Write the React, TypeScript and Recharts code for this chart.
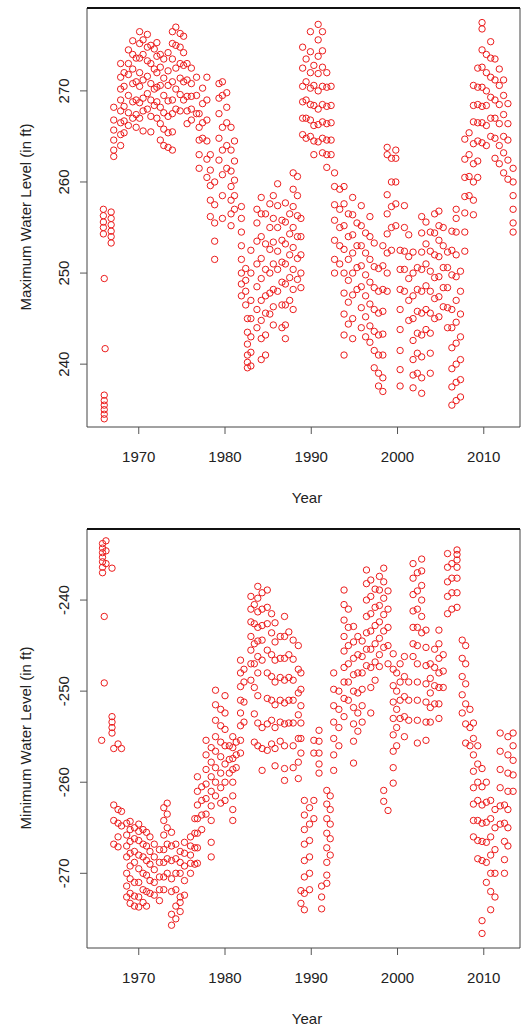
import { ReferenceArea, ReferenceLine, Scatter, ScatterChart, XAxis, YAxis } from 'recharts'

// each column: [decimal year, levels recorded at that time]
type Column = [number, number[]]

const yearTicks = [1970, 1980, 1990, 2000, 2010]
const maxTicks = [240, 250, 260, 270]
const minTicks = [-270, -260, -250, -240]

const maxLevelCols: Column[] = [
  [1965.9, [257, 256.3, 255.6, 255, 254.3]],
  [1966.0, [249.4]],
  [1966.1, [241.7]],
  [1966.0, [236.6, 236, 235.5, 235, 234.5, 234]],
  [1966.8, [256.7, 256, 255.3, 254.6, 254, 253.3]],
  [1967.1, [268.2, 266.8, 265.7, 264.6, 263.5, 262.8]],
  [1967.9, [273, 271.5, 270.2, 269, 267.8, 266.5, 265.2, 264]],
  [1968.3, [272, 270.5, 268.3, 266.7, 265.4]],
  [1968.8, [274.5, 273, 271.8, 269.5, 267.6, 266.2]],
  [1969.3, [275.5, 274, 272.4, 270.8, 268.8, 267]],
  [1969.7, [273.6, 271, 269, 267.4, 266]],
  [1970.1, [276.5, 275.2, 273.6, 272, 270.5, 268.7, 267]],
  [1970.5, [275.6, 274, 271.2, 269.2, 267.8, 265.6]],
  [1971.0, [276.2, 274.8, 273.3, 271.6, 269.7, 268]],
  [1971.4, [275, 273, 270.8, 269, 267.2, 265.5]],
  [1971.8, [274.6, 272.4, 270.2, 268.4]],
  [1972.1, [275.3, 273.8, 272, 270.4, 268.8, 267]],
  [1972.5, [274, 272.6, 270.6, 268.2, 266.4, 264.6]],
  [1972.9, [273.5, 271.4, 269.5, 267.6, 265.8, 264]],
  [1973.4, [274.2, 272.2, 270.6, 268.9, 267.2, 265.4, 263.8]],
  [1973.9, [276.5, 275.2, 273.5, 271, 269, 267.5, 265.5, 263.5]],
  [1974.3, [277, 275, 272.5, 270.2, 268]],
  [1974.8, [276.3, 274.8, 273, 271.4, 269.6, 267.8]],
  [1975.2, [276, 274.2, 272.8, 271, 269]],
  [1975.6, [273, 271.2, 269.4, 267.8, 266.4]],
  [1976.1, [272.5, 270.8, 269.4, 268, 266.8]],
  [1976.7, [271.5, 269.5, 267.5]],
  [1977.0, [267.5, 266, 264.6, 263, 261.5]],
  [1977.4, [270.3, 268.6, 266.5, 264.8]],
  [1977.9, [271.5, 269, 266.8, 264.5, 262.5, 260.5]],
  [1978.3, [263, 261.3, 259.6, 258, 256.2]],
  [1978.8, [260, 257.5, 255.5, 253.5, 251.5]],
  [1979.3, [270.8, 269.2, 267.5, 264.8, 262.4]],
  [1979.7, [271, 269.5, 266, 263.5, 260.8, 258.5, 256]],
  [1980.2, [269.8, 268.2, 266.5, 264, 261.5]],
  [1980.7, [266, 263.5, 261.2, 259.5, 258, 256.5, 255.2]],
  [1981.1, [264.5, 262.3, 260.2, 258.5, 257]],
  [1981.9, [257.3, 256, 254.5, 253, 251.5, 250, 248.8, 247.5]],
  [1982.4, [250.5, 249.2, 248, 246.5]],
  [1982.6, [245, 243.5, 242.2, 241, 240.2, 239.6]],
  [1983.0, [252.5, 250, 247, 245, 243, 241.3, 239.8]],
  [1983.7, [257, 255.5, 253.5, 251, 248.5, 246, 244]],
  [1984.2, [258.3, 256.5, 254, 251.6, 249.4, 247, 244.8, 242.8, 240.5]],
  [1984.7, [256.5, 253.2, 250.4, 247.5, 245.6, 243.2, 241]],
  [1985.2, [257.6, 255, 252.6, 250, 247.8, 245.5]],
  [1985.6, [258.5, 256, 253.4, 251, 248.2, 246.3, 244.3]],
  [1986.1, [259.8, 257.4, 255, 252.4, 250.4, 248]],
  [1986.6, [255.8, 253.6, 251.2, 249, 246.5, 244]],
  [1987.0, [257.7, 255.6, 253.2, 251, 248.8, 246.5, 244.3, 242.8]],
  [1987.5, [256.5, 254.3, 252, 249.5, 247]],
  [1987.9, [261, 259.2, 257.3, 255, 252.8, 250.4, 248.2, 246]],
  [1988.4, [260.6, 258.5, 256.3, 254, 251.6, 249.3]],
  [1988.8, [256, 254, 252, 250, 248.4]],
  [1989.0, [274.8, 272.5, 270.5, 268.8, 267, 265.2]],
  [1989.4, [273.5, 271, 269, 267, 264.8]],
  [1989.9, [276.5, 274.3, 272, 270.3, 268.5, 266.8, 265]],
  [1990.3, [272.8, 270.6, 268.4, 266.2, 264.5, 263]],
  [1990.8, [277.3, 275.6, 273.8, 271.9, 270, 268, 266.3, 264.4]],
  [1991.3, [276.5, 274.4, 272.6, 270.5, 268.5, 266.6, 264.8, 263.2]],
  [1991.8, [272, 270.4, 268.3, 266.4, 264.6, 263, 261.6]],
  [1992.3, [270.5, 268.4, 266.5, 264.6, 263]],
  [1992.7, [261, 259.5, 257.5, 255.8, 253.6, 251.5, 250]],
  [1993.3, [259.2, 257, 255, 253, 251]],
  [1993.8, [259.5, 257.6, 255.2, 252.6, 250, 247.8, 245.5, 243.2, 241]],
  [1994.3, [256.5, 254, 251.5, 249.2, 246.8, 244.4]],
  [1994.8, [258.3, 256.4, 254.2, 252.2, 250, 247.6, 245, 242.8]],
  [1995.3, [255.5, 253, 250.6, 248.2]],
  [1995.8, [257.4, 255.2, 253, 250.8, 248.5, 246.2, 244]],
  [1996.3, [254.4, 252.2, 249.8, 247.5, 245.2, 243]],
  [1996.8, [256.2, 254, 251.5, 249, 246.6, 244.2, 242.4]],
  [1997.3, [253.3, 250.7, 248.4, 246, 243.6, 241.5, 239.6]],
  [1997.8, [250.5, 248, 245.6, 243.2, 241, 239, 237.6]],
  [1998.3, [253, 250.8, 248.2, 245.8, 243.3, 241, 238.5, 237]],
  [1998.8, [263.8, 263, 258.6, 256.5, 254.3, 252.2, 250, 248]],
  [1999.3, [262.6, 260, 257.3, 255, 252.5]],
  [1999.8, [263.5, 262.6, 260, 257.6, 255.2]],
  [2000.3, [252.5, 250.4, 248.2, 246, 243.8, 241.5, 239.4, 237.6]],
  [2000.8, [257.4, 255, 252.4, 250.4, 248]],
  [2001.3, [254.2, 251.8, 249.4, 247, 244.8]],
  [2001.8, [252.3, 250, 247.5, 245, 242.6, 240.5, 238.8, 237.4]],
  [2002.3, [250.6, 248.2, 245.8, 243.4, 241.2, 239]],
  [2002.8, [256.2, 254.4, 252.3, 250.4, 248, 245.6, 243.2, 240.8, 238.5, 236.8]],
  [2003.3, [255.6, 253.2, 251, 248.6, 246, 243.8]],
  [2003.8, [254.5, 252.4, 250.2, 248, 245.6, 243.4, 241.2, 239]],
  [2004.3, [256.5, 254.4, 252, 249.5, 247.2, 245]],
  [2004.8, [256.8, 255.2, 253.6, 251.8, 249.6, 247.4, 245.2]],
  [2005.3, [255, 253, 250.6, 248.4, 246.3]],
  [2005.8, [252.3, 250.6, 248.4, 246.2, 244]],
  [2006.3, [254.6, 252.5, 249.8, 246, 244, 241.8, 239.5, 237.5, 235.5]],
  [2006.8, [257, 256, 254.5, 252, 249.6, 247, 244.6, 242.3, 240, 238, 236]],
  [2007.3, [250.2, 248, 245.5, 243, 240.5, 238.3, 236.4]],
  [2007.8, [264.7, 262.5, 260.5, 258.4, 256.6, 254.5, 252.4]],
  [2008.3, [265.4, 263, 260.6, 258.5]],
  [2008.8, [270.6, 268.4, 266.6, 264.2, 262, 260, 258, 256.4]],
  [2009.3, [272.5, 270.4, 268.5, 266.5, 264.5, 262.3, 260.5]],
  [2009.8, [277.5, 276.8, 274.5, 272.6, 270.4, 268.3, 266.5, 264.3]],
  [2010.3, [274, 272, 270, 268.4, 266.2, 264]],
  [2010.8, [275.4, 273.6, 271.5, 269.3, 267, 265]],
  [2011.3, [273.5, 271.2, 269, 267, 264.8, 262.6]],
  [2011.8, [272.4, 270.6, 268.5, 266.4, 264, 262]],
  [2012.3, [271.2, 269.5, 267.4, 265, 263.2, 261]],
  [2012.8, [268.6, 266.4, 264.6, 262.4, 260.3]],
  [2013.4, [261.5, 260, 258.5, 257, 255.5, 254.5]],
]

const minLevelCols: Column[] = [
  [1965.8, [-233.8, -234.3, -234.8, -235.3, -235.8, -236.4, -237]],
  [1966.0, [-241.8, -249.1]],
  [1965.7, [-255.4]],
  [1966.2, [-233.5, -234.6, -236]],
  [1966.9, [-252.8, -253.4, -254, -254.6, -236.5]],
  [1967.1, [-256.3, -262.5, -264.2, -266.8]],
  [1967.6, [-263, -264.5, -266, -267.1, -255.8]],
  [1968.0, [-256.3, -263.2, -264.8]],
  [1968.6, [-264.5, -265.8, -267, -268.2, -270, -271.4, -272.6]],
  [1969.0, [-264.3, -265.2, -266.5, -267.8, -269.2, -270.6, -272.2, -273.3]],
  [1969.5, [-265, -266.2, -267.6, -268.8, -271, -272.5, -273.6]],
  [1970.0, [-264.6, -265.4, -266.4, -268, -269.5, -271, -272.6, -273.7]],
  [1970.5, [-265.2, -266.8, -268.2, -270, -271.8, -273.2]],
  [1970.9, [-265.5, -267, -268.6, -270.2, -272, -273.6]],
  [1971.3, [-266, -267.6, -269, -270.8, -272.2]],
  [1971.8, [-266.8, -268.2, -269.6, -271, -272.4]],
  [1972.4, [-267.4, -268.8, -270.4, -271.8, -273]],
  [1972.9, [-262.8, -264.2, -265.8, -267.4, -268.8, -270.4, -271.8]],
  [1973.3, [-262.3, -263.5, -265, -266.8, -268.4, -270]],
  [1973.8, [-265.5, -267, -268.6, -270.6, -272, -274.5, -275.7]],
  [1974.3, [-266.8, -268.4, -270, -271.8, -273.6, -275]],
  [1974.8, [-267.6, -268.8, -270, -272.6, -273.2, -274.2]],
  [1975.3, [-266.6, -267.8, -269.2, -270.8, -272.4]],
  [1976.0, [-266, -267, -268, -268.9, -270]],
  [1976.5, [-264, -265.6, -267.2, -269]],
  [1976.8, [-259.4, -261, -262.5, -264, -265.6, -267.2, -268.9]],
  [1977.3, [-260.5, -262, -263.6, -265.2]],
  [1977.8, [-255.4, -257, -258.6, -260.2, -261.8, -263.5]],
  [1978.4, [-256.2, -257.8, -259.4, -261, -262.6, -264.2, -266.6, -268.2]],
  [1978.9, [-249.9, -251.5, -253.2, -255, -256.6, -258.4, -260, -261.5]],
  [1979.5, [-252, -253.8, -255.6, -257.2, -259, -260.6, -262.3]],
  [1980.0, [-250.5, -252.4, -254.2, -256, -258, -260, -262]],
  [1980.5, [-256, -257.5, -259]],
  [1980.9, [-255, -256.2, -257.4, -258.6, -260, -261.5, -263, -264.2]],
  [1981.3, [-255.6, -257, -258.4]],
  [1981.8, [-246.6, -248, -249.5, -251, -252.4, -253.8, -255.4, -256.8]],
  [1982.2, [-247.6, -249, -251.2, -253.4]],
  [1983.0, [-239.6, -241, -242.4, -244, -245.5, -247, -248.8]],
  [1983.4, [-240.5, -242.6, -244.8, -247, -249.6, -252.5, -255.6]],
  [1983.8, [-238.5, -239.8, -241.3, -243, -244.5, -246.2, -248, -250.5, -253.5, -256]],
  [1984.3, [-239.2, -241, -242.8, -244.4, -246.6, -254, -256.3, -258.7]],
  [1984.9, [-238.9, -240.8, -242.6, -245.5, -248, -250.8, -253.6, -256.5]],
  [1985.4, [-241.5, -243.6, -246, -248.4, -251, -253.2, -255.8]],
  [1985.8, [-242.5, -244.6, -246.6, -249, -251.5, -254, -256.3, -258.2]],
  [1986.4, [-244, -246.4, -248.5, -251, -253.4, -255.5]],
  [1986.9, [-241.8, -244, -246.4, -248.8, -251.3, -253.6, -256, -258.5, -259.8]],
  [1987.4, [-243.5, -246, -248.5, -251, -253.5]],
  [1987.9, [-244.4, -246.5, -248.8, -251, -253.5, -256, -258.4]],
  [1988.5, [-245, -247.6, -250.2, -252.6, -255.2, -257.8, -259.6]],
  [1988.8, [-248, -249.8, -251.6, -253.5, -255.2, -256.8, -271.9, -273.3]],
  [1989.2, [-262, -263.6, -265.2, -266.8, -268.6, -270.4, -272.2, -274]],
  [1989.8, [-262.8, -264.6, -266.4, -268.2, -270, -271.8]],
  [1990.3, [-255.4, -256.8, -262, -264]],
  [1990.9, [-254.3, -255.5, -256.8, -258, -259]],
  [1991.2, [-271.4, -272.6, -273.9]],
  [1991.8, [-260.9, -262.4, -264, -265.6, -267.2, -268.8, -270.2, -271.1]],
  [1992.2, [-261.5, -263, -264.6, -266.2, -268]],
  [1992.6, [-248, -249.8, -251.6, -253.4, -255.2, -257, -258.7]],
  [1993.2, [-250, -252, -254, -256]],
  [1993.8, [-238.9, -240.5, -242.2, -244, -245.6, -247.4, -249, -250.8, -252.8]],
  [1994.3, [-241, -243, -245, -247, -249, -251]],
  [1994.9, [-242.9, -244.6, -246.4, -248.2, -250, -251.8, -253.6, -255.5, -257.9]],
  [1995.4, [-244, -246, -248, -250.2, -252.4, -254.4]],
  [1995.9, [-244.5, -246.2, -248, -249.8, -251.6, -253.4]],
  [1996.4, [-236.7, -238.2, -240, -241.8, -243.6, -245.4, -247.2]],
  [1996.9, [-237.8, -239.6, -241.5, -243.4, -245.4, -247.4, -249.6, -252.4]],
  [1997.4, [-238.8, -240.8, -242.8, -244.8, -246.8, -248.8]],
  [1997.9, [-237.4, -238.9, -240.6, -242.4, -244.2, -246, -247.3]],
  [1998.4, [-236.5, -238, -239.8, -241.6, -243.4, -245.2, -260.9, -262.1]],
  [1998.9, [-239, -241, -243, -245, -247, -263.1]],
  [1999.5, [-245.9, -247.6, -249.4, -251.2, -253, -254.8, -256.6, -258.4, -260.1]],
  [1999.9, [-248, -250, -252, -254, -256]],
  [2000.3, [-247, -249, -251, -253]],
  [2000.8, [-246.2, -248.4, -250.6, -252.8, -255]],
  [2001.3, [-249, -251, -253.2]],
  [2001.8, [-236, -237.6, -239.4, -241.2, -243, -244.8, -246.2]],
  [2002.3, [-237, -239, -241, -243, -245, -247, -249, -251, -253.2, -255.7]],
  [2002.8, [-235.5, -236.8, -238.4, -240, -241.8, -243.6]],
  [2003.3, [-243.3, -245.2, -247.2, -249.2, -251.2, -253.4, -255.4]],
  [2003.8, [-247, -248.6, -250.2, -251.8, -253.4]],
  [2004.3, [-245.4, -247.4, -249.4, -251.4]],
  [2004.8, [-243.3, -244.8, -246.4, -248, -249.6, -251.4, -253]],
  [2005.3, [-246, -247.8, -249.6]],
  [2005.8, [-234.9, -236.4, -238, -239.6, -241.5]],
  [2006.3, [-236, -237.6, -239.2, -241]],
  [2006.9, [-234.5, -235, -235.6, -236.4, -237.6, -239.2, -240.8]],
  [2007.5, [-244.4, -246.4, -248.4, -250.4, -252.4]],
  [2007.9, [-245, -247, -249.2, -251.4, -253.6, -255.7]],
  [2008.4, [-252, -254, -256]],
  [2008.8, [-253.5, -255.2, -257, -258.8, -260.6, -262.4, -264.2, -266]],
  [2009.3, [-256, -258, -260, -262, -264.2, -266.4, -268.4]],
  [2009.8, [-258.5, -260.5, -262.5, -264.5, -266.5, -268.6, -275.2, -276.6]],
  [2010.3, [-260, -262.2, -264.4, -266.6, -268.8, -271]],
  [2010.8, [-262, -264, -266, -268, -270, -272, -274]],
  [2011.3, [-263, -265, -267.4, -270, -272.6]],
  [2011.9, [-254.6, -256.6, -258.6, -260.6, -262.6, -264.6]],
  [2012.4, [-262.5, -264.5, -266.5, -268.5, -270]],
  [2012.8, [-255, -257, -259, -261, -263, -265, -267]],
  [2013.4, [-254.6, -256, -257.6, -259.2, -261]],
]

const YEAR_DOMAIN: [number, number] = [1964, 2014.2]
const FONT = '"Liberation Sans", Arial, sans-serif'
const RED = '#ec1c1c'

const toPoints = (cols: Column[]) =>
  cols.flatMap(([year, levels]) => levels.map((level) => ({ year, level })))

const ringShape = (p: any) => (
  <circle cx={p.cx} cy={p.cy} r={3.2} fill="none" stroke={RED} strokeWidth={1} />
)

const yearTick = (p: any) => (
  <text x={p.x} y={p.y} dy={26} textAnchor="middle" fontSize={15} fontFamily={FONT} fill="#222">
    {p.payload.value}
  </text>
)

// R-style left axis: labels run parallel to the axis
const levelTick = (p: any) => (
  <g transform={`translate(${p.x - 14},${p.y}) rotate(-90)`}>
    <text x={0} y={0} dy={5} textAnchor="middle" fontSize={15} fontFamily={FONT} fill="#222">
      {p.payload.value}
    </text>
  </g>
)

interface PanelProps {
  cols: Column[]
  domain: [number, number]
  ticks: number[]
  title: string
  top: number
}

function LevelPanel({ cols, domain, ticks, title, top }: PanelProps) {
  const data = toPoints(cols)
  return (
    <div style={{ position: 'absolute', left: 0, top, width: 523, height: 515 }}>
      <ScatterChart width={523} height={515} margin={{ top: 8, right: 3, bottom: 0, left: 0 }}>
        <XAxis
          type="number"
          dataKey="year"
          domain={YEAR_DOMAIN}
          ticks={yearTicks}
          interval={0}
          allowDataOverflow
          axisLine={false}
          tickSize={7}
          tickLine={{ stroke: '#555' }}
          tick={yearTick}
          height={88}
        />
        <YAxis
          type="number"
          dataKey="level"
          domain={domain}
          ticks={ticks}
          interval={0}
          allowDataOverflow
          axisLine={false}
          tickSize={7}
          tickLine={{ stroke: '#555' }}
          tick={levelTick}
          width={87}
        />
        <Scatter data={data} shape={ringShape} isAnimationActive={false} />
        <ReferenceArea
          x1={YEAR_DOMAIN[0]}
          x2={YEAR_DOMAIN[1]}
          y1={domain[0]}
          y2={domain[1]}
          fill="none"
          fillOpacity={0}
          stroke="#444"
          strokeWidth={1}
          ifOverflow="visible"
        />
        <ReferenceLine y={domain[1]} stroke="#111" strokeWidth={2} ifOverflow="visible" />
      </ScatterChart>
      <div
        style={{
          position: 'absolute',
          left: 26 - 150,
          top: 217 - 10,
          width: 300,
          height: 20,
          lineHeight: '20px',
          textAlign: 'center',
          transform: 'rotate(-90deg)',
          fontFamily: FONT,
          fontSize: 15,
          color: '#222',
        }}
      >
        {title}
      </div>
      <div
        style={{
          position: 'absolute',
          left: 257,
          top: 488,
          width: 100,
          height: 20,
          lineHeight: '20px',
          textAlign: 'center',
          fontFamily: FONT,
          fontSize: 15,
          color: '#222',
        }}
      >
        Year
      </div>
    </div>
  )
}

export default function App() {
  return (
    <div style={{ position: 'absolute', left: 0, top: 0, width: 523, height: 1027, overflow: 'hidden', background: '#fff' }}>
      <LevelPanel cols={maxLevelCols} domain={[233.1, 279.1]} ticks={maxTicks} title="Maximum Water Level (in ft)" top={0} />
      <LevelPanel cols={minLevelCols} domain={[-278.2, -232.2]} ticks={minTicks} title="Minimum Water Level (in ft)" top={521} />
    </div>
  )
}
